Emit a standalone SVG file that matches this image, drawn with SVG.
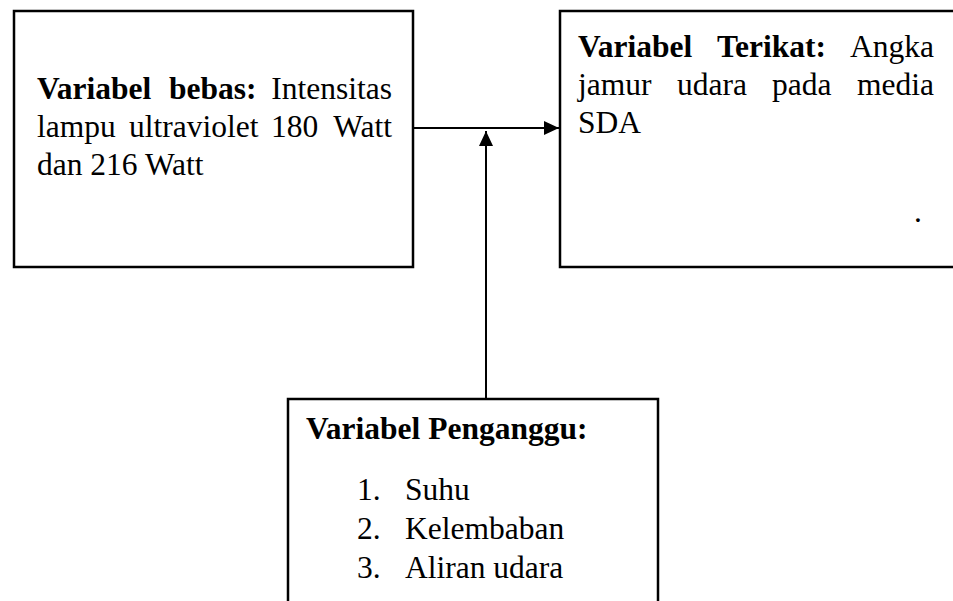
<svg xmlns="http://www.w3.org/2000/svg" width="953" height="601" viewBox="0 0 953 601">
<defs>
<style>
.box{fill:#fff;stroke:#000;stroke-width:2.5}
.t{font-family:"Liberation Serif","Times New Roman",serif;font-size:31.5px;fill:#000}
.b{font-weight:bold}
.ln{stroke:#000;stroke-width:2;fill:none}
</style>
<marker id="ah" markerWidth="15" markerHeight="14" refX="15" refY="7" orient="auto" markerUnits="userSpaceOnUse">
<path d="M0,0 L15,7 L0,14 Z" fill="#000"/>
</marker>
</defs>
<rect width="953" height="601" fill="#fff"/>
<g id="connectors">
<line class="ln" x1="414" y1="128" x2="559" y2="128" marker-end="url(#ah)"/>
<line class="ln" x1="486" y1="399" x2="486" y2="131" marker-end="url(#ah)"/>
</g>
<g id="node-bebas">
<rect class="box" x="14" y="11" width="399" height="256"/>
<text class="t" y="99"><tspan class="b" x="37">Variabel</tspan><tspan class="b" x="169">bebas:</tspan></text>
<text class="t" y="99" x="392" text-anchor="end">Intensitas</text>
<text class="t" y="137"><tspan x="37">lampu</tspan><tspan x="129">ultraviolet</tspan><tspan x="271">180</tspan></text>
<text class="t" y="137" x="392" text-anchor="end">Watt</text>
<text class="t" y="175" x="37">dan 216 Watt</text>
</g>
<g id="node-terikat">
<rect class="box" x="560" y="11" width="400" height="256"/>
<text class="t" y="57"><tspan class="b" x="578">Variabel</tspan><tspan class="b" x="717">Terikat:</tspan></text>
<text class="t" y="57" x="934" text-anchor="end">Angka</text>
<text class="t" y="95"><tspan x="578">jamur</tspan><tspan x="677">udara</tspan><tspan x="772">pada</tspan></text>
<text class="t" y="95" x="934" text-anchor="end">media</text>
<text class="t" y="133" x="578">SDA</text>
<text class="t" y="222" x="914">.</text>
</g>
<g id="node-pengganggu">
<rect class="box" x="288" y="399" width="370" height="220"/>
<text class="t b" x="306" y="439">Variabel Penganggu:</text>
<text class="t" y="500"><tspan x="357">1.</tspan><tspan x="405">Suhu</tspan></text>
<text class="t" y="539"><tspan x="357">2.</tspan><tspan x="405">Kelembaban</tspan></text>
<text class="t" y="578"><tspan x="357">3.</tspan><tspan x="405">Aliran udara</tspan></text>
</g>
</svg>
